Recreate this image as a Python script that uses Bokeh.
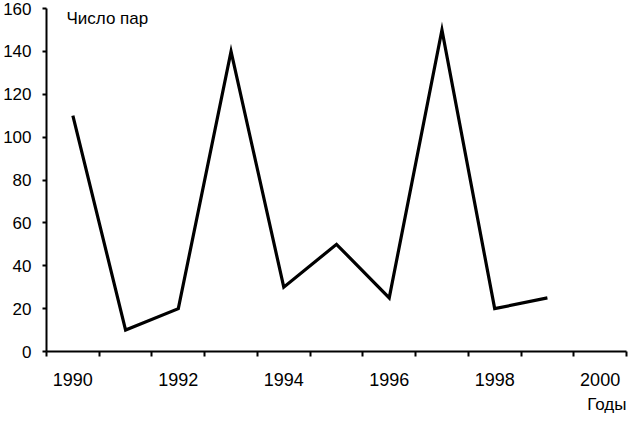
from bokeh.plotting import figure
from bokeh.models import Range1d, FixedTicker, Label, Title
from bokeh.embed import file_html
from bokeh.resources import INLINE

years = [1990, 1991, 1992, 1993, 1994, 1995, 1996, 1997, 1998, 1999]
pairs = [110, 10, 20, 140, 30, 50, 25, 150, 20, 25]
x_label_years = [1990, 1992, 1994, 1996, 1998, 2000]
category_bounds = [1989.5 + i for i in range(12)]
y_ticks = [0, 20, 40, 60, 80, 100, 120, 140, 160]

FONT = "Liberation Sans"

p = figure(width=628, height=417, output_backend="svg", toolbar_location=None,
           x_range=Range1d(1989.5, 2000.5), y_range=Range1d(0, 160),
           min_border_left=40, min_border_right=2, min_border_top=8, min_border_bottom=0)
p.outline_line_color = None
p.xgrid.grid_line_color = None
p.ygrid.grid_line_color = None
p.background_fill_color = "white"
p.border_fill_color = "white"

p.line(years, pairs, line_color="black", line_width=3.2, line_join="miter")

xa = p.xaxis[0]
xa.ticker = FixedTicker(ticks=x_label_years, minor_ticks=category_bounds)
xa.major_tick_line_color = None
xa.major_tick_out = 6
xa.major_tick_in = 0
xa.minor_tick_line_color = "black"
xa.minor_tick_line_width = 2
xa.minor_tick_out = 5
xa.minor_tick_in = 0
xa.axis_line_color = "black"
xa.axis_line_width = 2
xa.major_label_standoff = 15
xa.major_label_text_font = FONT
xa.major_label_text_font_size = "18px"
xa.major_label_text_color = "black"

ya = p.yaxis[0]
ya.ticker = FixedTicker(ticks=y_ticks)
ya.minor_tick_line_color = None
ya.major_tick_line_color = "black"
ya.major_tick_line_width = 2
ya.major_tick_out = 4
ya.major_tick_in = 0
ya.axis_line_color = "black"
ya.axis_line_width = 2
ya.major_label_standoff = 11
ya.major_label_text_font = FONT
ya.major_label_text_font_size = "17px"
ya.major_label_text_color = "black"

p.add_layout(Label(x=1989.5, y=160, x_offset=20, text="Число пар",
                   text_font=FONT, text_font_size="17px", text_color="black",
                   text_baseline="top", text_align="left"))

p.add_layout(Title(text="Годы", align="right", text_font=FONT, text_font_size="17px",
                   text_font_style="normal", text_color="black", offset=0, standoff=8), "below")

open("out.html", "w").write(file_html(p, INLINE))
